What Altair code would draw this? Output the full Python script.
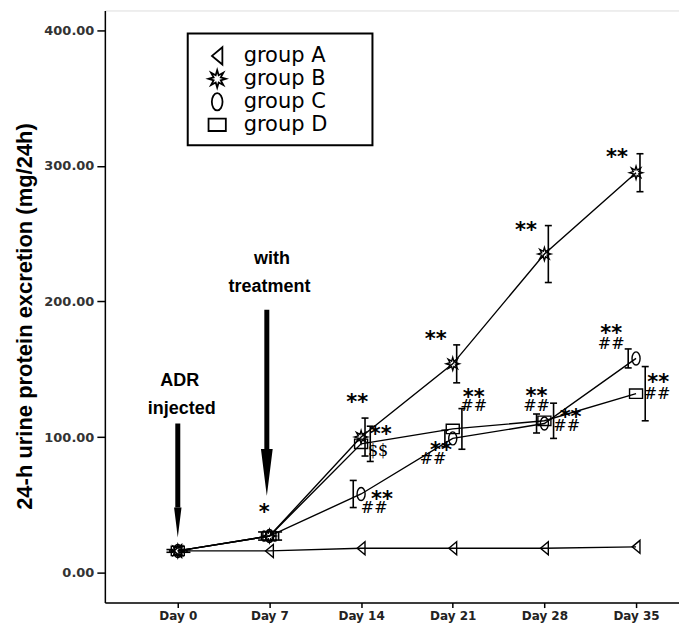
import math
import altair as alt
import pandas as pd

# ---------------- data ----------------
days = [0, 7, 14, 21, 28, 35]
groups = ["group A", "group B", "group C", "group D"]
mean_a = [16, 16, 18, 18, 18, 19]
mean_b = [16, 27, 100, 154, 235, 295]
mean_c = [16, 27, 58, 99, 110, 158]
mean_d = [16, 27, 95, 106, 112, 132]
err_b = [1, 3, 14, 14, 21, 14]
err_c = [1, 3, 10, 6, 7, 7]
err_d = [1, 3, 13, 15, 13, 20]

ann_text = ["*", "**", "**", "$$", "**", "##", "**", "**", "##", "**", "##",
            "**", "**", "##", "**", "##", "**", "**", "##", "**", "##"]
ann_day = [6.6, 13.7, 15.5, 15.3, 15.6, 15.0, 19.7, 20.1, 19.5, 22.6, 22.6,
           26.6, 27.4, 27.4, 30.0, 29.7, 33.55, 33.1, 33.1, 36.7, 36.6]
ann_val = [46, 127, 104, 90, 56, 48, 174, 92, 84, 131, 123,
           254, 132, 123, 116, 108, 308, 178, 169, 142, 132]

arrow_day = [0, 6.8]
arrow_top = [110, 194]
arrow_bottom = [48, 88]
head_val = [37, 74]

note_text = ["ADR", "injected", "with", "treatment"]
note_day = [0.15, 0.3, 7.2, 7.0]
note_val = [141, 121, 231, 211]

# ---------------- styling helpers ----------------
bar_shift = {"group A": 0.0, "group B": 0.3, "group C": -0.6, "group D": 0.7}

def star_path(n=8, inner=0.45):
    pts = []
    for i in range(2 * n):
        r = 1.0 if i % 2 == 0 else inner
        a = i * math.pi / n
        pts.append((r * math.sin(a), -r * math.cos(a)))
    return "M" + " L".join(f"{x:.3f},{y:.3f}" for x, y in pts) + " Z"

shape_tri = "M-0.6,0 L0.6,-1 L0.6,1 Z"
shape_star = star_path()
shape_ell = "M0,-1 A0.62,1 0 1,1 0,1 A0.62,1 0 1,1 0,-1 Z"
shape_rect = "M-1,-0.72 L1,-0.72 L1,0.72 L-1,0.72 Z"

rows = []
for g, means, errs in [("group A", mean_a, [0] * 6), ("group B", mean_b, err_b),
                       ("group C", mean_c, err_c), ("group D", mean_d, err_d)]:
    for d, m, e in zip(days, means, errs):
        rows.append({"group": g, "day": d, "mean": m, "lo": m - e, "hi": m + e,
                     "bx": d + bar_shift[g], "has_err": e > 0})
df = pd.DataFrame(rows)
df_err = df[df["has_err"]]

ann = pd.DataFrame({"t": ann_text, "day": ann_day, "val": ann_val})
arrows = pd.DataFrame({"day": arrow_day, "top": arrow_top, "bottom": arrow_bottom,
                       "head": head_val, "hsize": [900, 2200]})
notes = pd.DataFrame({"t": note_text, "day": note_day, "val": note_val})

xscale = alt.Scale(domain=[-5.57, 38.28], nice=False, zero=False)
yscale = alt.Scale(domain=[-22.1, 414.7], nice=False, zero=False)

xaxis = alt.Axis(values=days, labelExpr="'Day ' + datum.value", grid=False, title=None,
                 domainColor="black", domainWidth=1.5, tickColor="black", tickWidth=1.5,
                 tickSize=5, labelFont="DejaVu Sans", labelFontWeight="bold",
                 labelFontSize=12, labelColor="#222", labelPadding=3)
yaxis = alt.Axis(values=[0, 100, 200, 300, 400], format=".2f", grid=False,
                 title="24-h urine protein excretion (mg/24h)",
                 domainColor="black", domainWidth=1.5, tickColor="black", tickWidth=1.5,
                 tickSize=8, labelFont="DejaVu Sans", labelFontWeight="bold",
                 labelFontSize=13, labelColor="#333",
                 labelPadding=3, titleFont="Liberation Sans", titleFontWeight="bold",
                 titleFontSize=22, titleColor="black", titleX=-80, titleY=306,
                 titleAngle=-90, titleAlign="center", titleBaseline="middle")

X = alt.X("day:Q", scale=xscale, axis=xaxis)
Y = alt.Y("mean:Q", scale=yscale, axis=yaxis)

base = alt.Chart(df)

lines = base.mark_line(color="black", strokeWidth=1.4).encode(
    x=X, y=Y, detail="group:N", order="day:Q")

points = base.mark_point(filled=False, color="black", strokeWidth=1.4, opacity=1).encode(
    x=X, y=Y,
    shape=alt.Shape("group:N",
                    scale=alt.Scale(domain=groups,
                                    range=[shape_tri, shape_star, shape_ell, shape_rect]),
                    legend=alt.Legend(title=None, orient="none", legendX=102, legendY=35,
                                      labelFont="DejaVu Sans", labelFontSize=21,
                                      labelColor="black", symbolSize=300,
                                      symbolStrokeColor="black", symbolStrokeWidth=1.8,
                                      symbolFillColor="white", padding=0, rowPadding=-2,
                                      labelOffset=16)),
    size=alt.value(170))

ebar = alt.Chart(df_err).mark_rule(color="black", strokeWidth=1.6).encode(
    x=alt.X("bx:Q", scale=xscale), y=alt.Y("lo:Q", scale=yscale), y2="hi:Q")
cap_lo = alt.Chart(df_err).mark_point(shape="M-1,0 L1,0", color="black", strokeWidth=1.6,
                                      size=49, filled=False, opacity=1).encode(
    x=alt.X("bx:Q", scale=xscale), y=alt.Y("lo:Q", scale=yscale))
cap_hi = alt.Chart(df_err).mark_point(shape="M-1,0 L1,0", color="black", strokeWidth=1.6,
                                      size=49, filled=False, opacity=1).encode(
    x=alt.X("bx:Q", scale=xscale), y=alt.Y("hi:Q", scale=yscale))

stars = alt.Chart(ann).transform_filter("indexof(datum.t, '*') >= 0").mark_text(
    font="DejaVu Sans", fontWeight="bold", fontSize=21, color="black",
    baseline="middle", align="center", dy=3).encode(
    x=alt.X("day:Q", scale=xscale), y=alt.Y("val:Q", scale=yscale), text="t:N")
hashes = alt.Chart(ann).transform_filter("indexof(datum.t, '*') < 0").mark_text(
    font="DejaVu Serif", fontSize=16, color="black",
    baseline="middle", align="center").encode(
    x=alt.X("day:Q", scale=xscale), y=alt.Y("val:Q", scale=yscale), text="t:N")

shafts = alt.Chart(arrows).mark_rule(color="black", strokeWidth=5).encode(
    x=alt.X("day:Q", scale=xscale), y=alt.Y("top:Q", scale=yscale), y2="bottom:Q")
heads = alt.Chart(arrows).mark_point(shape="M-0.25,-1 L0.25,-1 L0,1 Z", filled=True,
                                     color="black", opacity=1).encode(
    x=alt.X("day:Q", scale=xscale), y=alt.Y("head:Q", scale=yscale),
    size=alt.Size("hsize:Q", scale=None, legend=None))

note_marks = alt.Chart(notes).mark_text(font="Liberation Sans", fontWeight="bold",
                                        fontSize=18, color="black", baseline="middle",
                                        align="center").encode(
    x=alt.X("day:Q", scale=xscale), y=alt.Y("val:Q", scale=yscale), text="t:N")

box = alt.Chart(pd.DataFrame({"k": [0]})).mark_rect(
    filled=False, stroke="black", strokeWidth=2, fill=None).encode(
    x=alt.value(83), x2=alt.value(268), y=alt.value(23), y2=alt.value(135))

chart = alt.layer(lines, ebar, cap_lo, cap_hi, points, stars, hashes, shafts, heads,
                  note_marks, box).properties(
    width=575, height=593,
    autosize=alt.AutoSizeParams(type="none"),
    padding={"left": 97, "top": 2, "right": 0, "bottom": 22},
).configure_view(stroke=None).configure(background="white")

chart.save("out.html", embed_options={"renderer": "svg", "actions": False})
